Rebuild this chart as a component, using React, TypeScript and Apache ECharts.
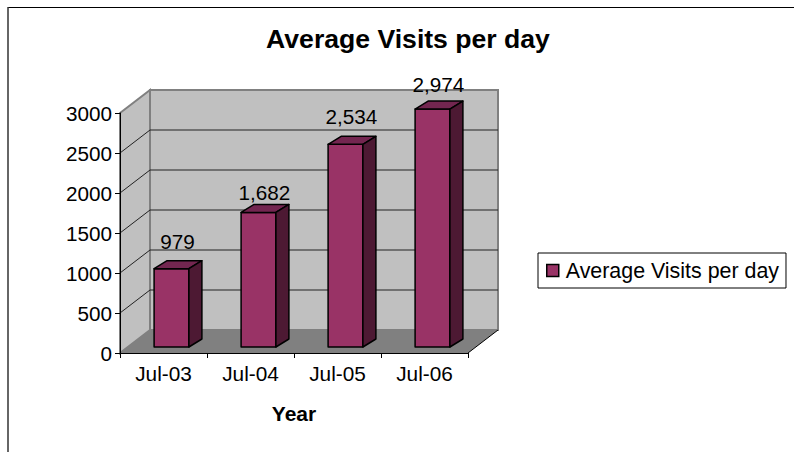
import React, { useEffect, useRef } from "react";
import * as echarts from "echarts";

const categories = ["Jul-03", "Jul-04", "Jul-05", "Jul-06"];
const visits = [979, 1682, 2534, 2974];
const gridTicks = [500, 1000, 1500, 2000, 2500, 3000];
const seriesName = "Average Visits per day";
const chartTitle = "Average Visits per day";
const xName = "Year";
const FONT = '"Liberation Sans", Arial, sans-serif';
const WALL_DX = 30, WALL_DY = -23;
const BAR_DX = 13, BAR_DY = -8;
const BAR_SHIFT_X = 8, BAR_SHIFT_Y = -6;
const LABEL_LIFT = [27, 20, 28, 25];

export default function App() {
  const ref = useRef<HTMLDivElement>(null);
  useEffect(() => {
    const chart = echarts.init(ref.current!, undefined, { renderer: "svg" });
    chart.setOption({
      animation: false,
      backgroundColor: "#ffffff",
      textStyle: { fontFamily: FONT },
      legend: {
        left: 538,
        top: 253,
        data: [seriesName],
        orient: "vertical",
        icon: "rect",
        itemWidth: 12,
        itemHeight: 12,
        padding: [7, 7, 7, 8],
        borderColor: "#000",
        borderWidth: 1,
        borderRadius: 0,
        backgroundColor: "#fff",
        itemStyle: { color: "#993366", borderColor: "#000", borderWidth: 1.5 },
        textStyle: { fontFamily: FONT, fontSize: 21.4, color: "#000", padding: [1, 0, 0, 2] },
      },
      grid: { left: 120, top: 113, width: 348, height: 240 },
      xAxis: {
        type: "category",
        data: categories,
        z: 5,
        name: xName,
        nameLocation: "middle",
        nameGap: 50,
        nameTextStyle: { fontFamily: FONT, fontSize: 21, fontWeight: "bold", color: "#000" },
        axisLine: { lineStyle: { color: "#000", width: 1 } },
        axisTick: { show: true, length: 5, lineStyle: { color: "#000", width: 1 } },
        axisLabel: { fontFamily: FONT, fontSize: 20.8, color: "#000", margin: 10 },
      },
      yAxis: {
        type: "value",
        min: 0,
        max: 3000,
        interval: 500,
        z: 5,
        splitLine: { show: false },
        axisLine: { show: true, lineStyle: { color: "#000", width: 1 } },
        axisTick: { show: true, length: 5, lineStyle: { color: "#000", width: 1 } },
        axisLabel: { fontFamily: FONT, fontSize: 20.7, color: "#000", margin: 8, formatter: (v: number) => String(v) },
      },
      graphic: [
        { type: "text", style: { text: chartTitle, x: 408, y: 39, align: "center", verticalAlign: "middle", fill: "#000", fontFamily: FONT, fontSize: 26.6, fontWeight: "bold" } },
        { type: "line", shape: { x1: 8, y1: 7.5, x2: 794, y2: 7.5 }, style: { stroke: "#000", lineWidth: 1 } },
        { type: "line", shape: { x1: 8, y1: 7, x2: 8, y2: 452 }, style: { stroke: "#333", lineWidth: 1.5 } },
      ],
      series: [
        {
          type: "custom",
          name: "walls",
          z: 1,
          silent: true,
          clip: false,
          data: [[0, 0]],
          renderItem: (_p: any, api: any) => {
            const o = api.coord([0, 0]);
            const t = api.coord([0, 3000]);
            const w = api.size([1, 0])[0] * categories.length;
            const x0 = o[0] - api.size([1, 0])[0] / 2;
            const y0 = o[1], y1 = t[1];
            const edge = { stroke: "#808080", lineWidth: 2 };
            return {
              type: "group",
              children: [
                { type: "polygon", shape: { points: [[x0 + WALL_DX, y1 + WALL_DY], [x0 + w + WALL_DX, y1 + WALL_DY], [x0 + w + WALL_DX, y0 + WALL_DY], [x0 + WALL_DX, y0 + WALL_DY]] }, style: { fill: "#c0c0c0", ...edge } },
                { type: "polygon", shape: { points: [[x0, y1], [x0 + WALL_DX, y1 + WALL_DY], [x0 + WALL_DX, y0 + WALL_DY], [x0, y0]] }, style: { fill: "#c0c0c0", ...edge } },
                { type: "polygon", shape: { points: [[x0, y0], [x0 + WALL_DX, y0 + WALL_DY], [x0 + w + WALL_DX, y0 + WALL_DY], [x0 + w, y0]] }, style: { fill: "#808080", stroke: "none" } },
                { type: "line", shape: { x1: x0 + w, y1: y0, x2: x0 + w + WALL_DX, y2: y0 + WALL_DY }, style: { stroke: "#000", lineWidth: 1 } },
              ],
            };
          },
        },
        {
          type: "custom",
          name: "gridlines",
          z: 2,
          silent: true,
          clip: false,
          data: gridTicks.map((v) => [0, v]),
          renderItem: (_p: any, api: any) => {
            const band = api.size([1, 0])[0];
            const p = api.coord([0, api.value(1)]);
            const x0 = p[0] - band / 2;
            const y = p[1];
            const last = api.value(1) === 3000;
            const back = x0 + WALL_DX;
            const style = { stroke: "#222", lineWidth: 1 };
            if (last) return { type: "group", children: [] };
            return {
              type: "group",
              children: [
                { type: "line", shape: { x1: x0, y1: y, x2: back, y2: y + WALL_DY }, style },
                { type: "line", shape: { x1: back, y1: y + WALL_DY, x2: back + band * categories.length, y2: y + WALL_DY }, style },
              ],
            };
          },
        },
        {
          type: "custom",
          name: seriesName,
          z: 3,
          silent: true,
          clip: false,
          encode: { x: 0, y: 1 },
          itemStyle: { color: "#993366" },
          data: visits.map((v, i) => [i, v]),
          renderItem: (_p: any, api: any) => {
            const v = api.value(1);
            const top = api.coord([api.value(0), v]);
            const base = api.coord([api.value(0), 0]);
            const bw = api.size([1, 0])[0] * 0.4;
            const l = top[0] + BAR_SHIFT_X - bw / 2;
            const r = l + bw;
            const yt = top[1] + BAR_SHIFT_Y;
            const yb = base[1] + BAR_SHIFT_Y;
            const edge = { stroke: "#000", lineWidth: 1.5, lineJoin: "round" };
            return {
              type: "group",
              children: [
                { type: "polygon", shape: { points: [[l, yt], [r, yt], [r, yb], [l, yb]] }, style: { fill: "#993366", ...edge } },
                { type: "polygon", shape: { points: [[l, yt], [l + BAR_DX, yt + BAR_DY], [r + BAR_DX, yt + BAR_DY], [r, yt]] }, style: { fill: "#732650", ...edge } },
                { type: "polygon", shape: { points: [[r, yt], [r + BAR_DX, yt + BAR_DY], [r + BAR_DX, yb + BAR_DY], [r, yb]] }, style: { fill: "#4d1933", ...edge } },
                { type: "text", z2: 10, style: { text: v.toLocaleString("en-US"), x: l + bw / 2 + 6, y: yt - LABEL_LIFT[api.value(0)], align: "center", verticalAlign: "middle", fill: "#000", fontSize: 20.7, fontFamily: FONT } },
              ],
            };
          },
        },
      ],
    });
    return () => chart.dispose();
  }, []);
  return <div ref={ref} style={{ position: "absolute", left: 0, top: 0, width: 794, height: 452 }} />;
}
